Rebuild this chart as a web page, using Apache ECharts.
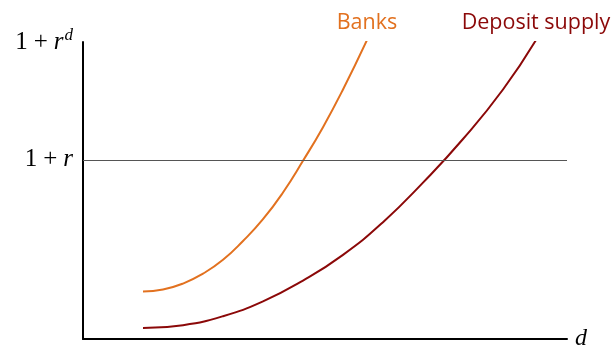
<!DOCTYPE html>
<html>
<head>
<meta charset="utf-8">
<script src="https://cdn.jsdelivr.net/npm/echarts@6/dist/echarts.min.js"></script>
<style>
  html, body { margin: 0; padding: 0; background: #fff; }
  #chart { width: 614px; height: 351px; }
</style>
</head>
<body>
<div id="chart"></div>
<script>
// Deposits (d) against gross deposit rate (1 + r^d), arbitrary units
const banksD = [60, 80, 100, 120, 140, 160, 180, 200, 220, 240, 260, 284];
const banksR = [48, 50, 56, 66, 80, 99, 121, 148, 180, 214, 252, 302];
const supplyD = [60, 100, 140, 180, 220, 260, 300, 340, 380, 420, 453];
const supplyR = [11, 14, 23, 38, 59, 85, 118, 158, 202, 252, 302];
const marketRate = 181;   // level of 1 + r
const topRate = 300;      // level of 1 + r^d
const seriesNames = ['Banks', 'Deposit supply'];

const BANK_COLOR = '#E2711F';
const SUPPLY_COLOR = '#8B0808';
const MATH_FONT = 'Liberation Serif';
const TEXT_FONT = 'Open Sans';

function pairs(xs, ys) {
  return xs.map((x, i) => [x, ys[i]]);
}

function curve(name, xs, ys, color) {
  return {
    name: name, type: 'line', smooth: true, showSymbol: false, symbol: 'none',
    lineStyle: { color: color, width: 2 },
    data: pairs(xs, ys),
    endLabel: {
      show: true, formatter: name, color: color,
      fontFamily: TEXT_FONT, fontSize: 21.5,
      align: 'center', verticalAlign: 'bottom', distance: 0, offset: [0, -6]
    },
    z: 3
  };
}

const mathRich = {
  n: { fontFamily: MATH_FONT, fontSize: 25, color: '#000' },
  p: { fontFamily: MATH_FONT, fontSize: 25, color: '#000', padding: [0, 6, 0, 6] },
  i: { fontFamily: MATH_FONT, fontStyle: 'italic', fontSize: 25, color: '#000' },
  s: { fontFamily: MATH_FONT, fontStyle: 'italic', fontSize: 17, color: '#000', verticalAlign: 'top', padding: [0, 0, 13, 1] }
};

const bankSeries = curve(seriesNames[0], banksD, banksR, BANK_COLOR);
bankSeries.markLine = {
  silent: true, symbol: 'none', label: { show: false },
  lineStyle: { color: '#555', width: 1, type: 'solid' },
  data: [{ yAxis: marketRate }]
};

const chart = echarts.init(document.getElementById('chart'), null, { renderer: 'canvas' });
chart.setOption({
  animation: false,
  grid: { left: 83, right: 47, top: 42, bottom: 9, containLabel: false },
  xAxis: {
    type: 'value', min: 0, max: 484,
    name: 'd', nameLocation: 'end', nameGap: 8,
    nameTextStyle: { fontFamily: MATH_FONT, fontStyle: 'italic', fontSize: 24, color: '#000', verticalAlign: 'middle', padding: [6, 0, 0, 0] },
    axisLine: { show: true, lineStyle: { color: '#000', width: 2 } },
    axisTick: { show: false }, axisLabel: { show: false }, splitLine: { show: false }
  },
  yAxis: {
    type: 'value', min: 0, max: topRate,
    axisLine: { show: true, lineStyle: { color: '#000', width: 2 } },
    axisTick: { show: false }, splitLine: { show: false },
    axisLabel: {
      show: true, customValues: [marketRate, topRate], margin: 10,
      formatter: v => v === topRate ? '{n|1}{p|+}{i|r}{s|d}' : '{n|1}{p|+}{i|r}',
      rich: mathRich
    }
  },
  series: [
    bankSeries,
    curve(seriesNames[1], supplyD, supplyR, SUPPLY_COLOR)
  ]
});
</script>
</body>
</html>
